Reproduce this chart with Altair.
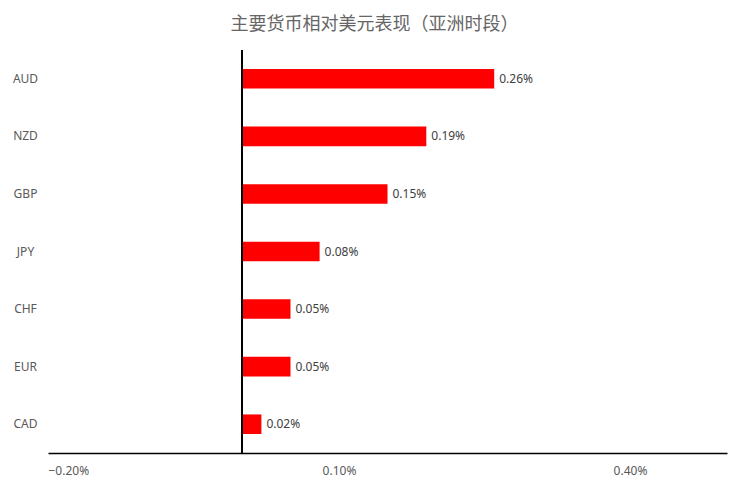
import altair as alt
import pandas as pd

currencies = ["AUD", "NZD", "GBP", "JPY", "CHF", "EUR", "CAD"]
values = [0.26, 0.19, 0.15, 0.08, 0.05, 0.05, 0.02]
labels = ["0.26%", "0.19%", "0.15%", "0.08%", "0.05%", "0.05%", "0.02%"]
x_ticks = [-0.2, 0.1, 0.4]
title_text = "主要货币相对美元表现（亚洲时段）"

df = pd.DataFrame({"cur": currencies, "val": values, "lab": labels})

FONT = "Noto Sans"

x_scale = alt.Scale(domain=[-0.2, 0.5], nice=False, zero=False)
y_enc = alt.Y("cur:N", sort=currencies,
              scale=alt.Scale(paddingInner=0.66, paddingOuter=0.33),
              axis=alt.Axis(title=None, domain=False, ticks=False, tickSize=0,
                            labelAlign="center", labelPadding=23,
                            labelFont=FONT, labelFontSize=12, labelColor="#595959"))

bars = alt.Chart(df).mark_bar(color="#FF0000").encode(
    x=alt.X("val:Q", scale=x_scale,
            axis=alt.Axis(title=None, values=x_ticks,
                          labelExpr="format(datum.value/100, '.2%')",
                          grid=False, ticks=False, tickSize=0,
                          domainColor="#000000", domainWidth=1.3,
                          labelPadding=12, labelFont=FONT, labelFontSize=12,
                          labelColor="#595959")),
    y=y_enc,
)

text = alt.Chart(df).mark_text(align="left", dx=5, font=FONT, fontSize=12,
                               color="#404040").encode(
    x=alt.X("val:Q", scale=x_scale),
    y=alt.Y("cur:N", sort=currencies),
    text="lab:N",
)

zero = alt.Chart(df).mark_rule(color="#000000", strokeWidth=1.2).encode(
    x=alt.X("z:Q", scale=x_scale),
).transform_calculate(z="0")

chart = alt.layer(bars, text, zero).properties(
    width=679, height=403,
    background="white",
    padding={"left": 40, "top": 42, "right": 17, "bottom": 30},
    autosize=alt.AutoSizeParams(type="none"),
    title=alt.TitleParams(title_text, font="Noto Sans CJK SC", fontSize=18,
                          fontWeight="normal", color="#666666",
                          anchor="middle", dx=-13, offset=15),
).configure_view(strokeWidth=0)

chart.save("out.html", embed_options={"renderer": "svg", "actions": False})
